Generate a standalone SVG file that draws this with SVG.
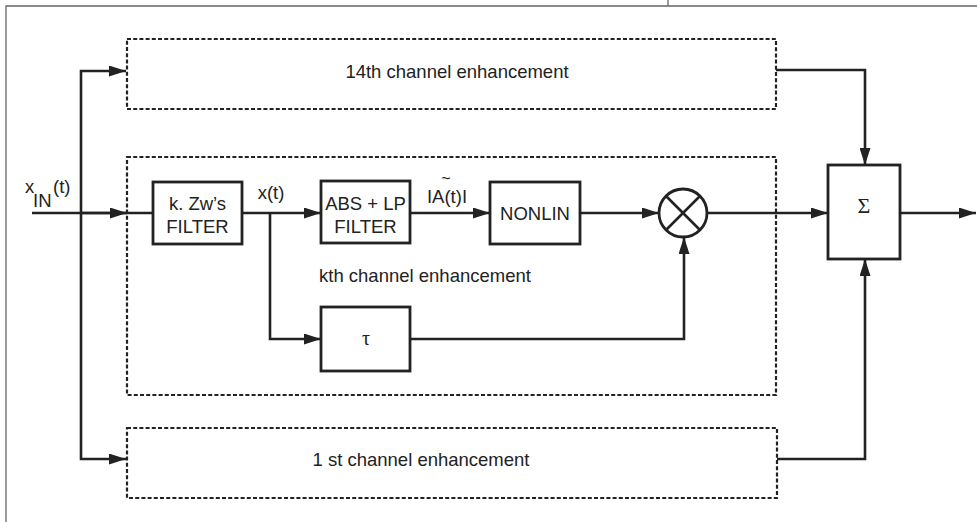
<svg xmlns="http://www.w3.org/2000/svg" width="977" height="522" viewBox="0 0 977 522">
<style>
.frame{fill:none;stroke:#666;stroke-width:1.3}
.blk{fill:#fff;stroke:#222;stroke-width:2.8}
.dash{fill:none;stroke:#222;stroke-width:2.2;stroke-dasharray:4 2.2}
.ln{fill:none;stroke:#222;stroke-width:2.6;stroke-linejoin:miter}
.arr{marker-end:url(#ah)}
text{font-family:"Liberation Sans",Arial,sans-serif;font-size:18.5px;fill:#222}
.mid{text-anchor:middle}
.sig{font-family:"Liberation Serif","Times New Roman",serif;font-size:22px}
</style>
<defs>
<marker id="ah" markerUnits="userSpaceOnUse" markerWidth="17" markerHeight="11" refX="17" refY="5.5" orient="auto">
<path d="M0,0 L17,5.5 L0,11 z" fill="#222"/>
</marker>
</defs>
<rect width="977" height="522" fill="#fff"/>
<g id="frame">
<path class="frame" d="M6,522 V6 H977 M668,0 V6"/>
</g>
<g id="ch14">
<rect class="dash" x="127" y="39" width="649" height="70"/>
<text x="457" y="78" class="mid">14th channel enhancement</text>
</g>
<g id="chk">
<rect class="dash" x="127" y="157" width="649" height="238"/>
<text x="319" y="282">kth channel enhancement</text>
</g>
<g id="ch1">
<rect class="dash" x="127" y="428" width="650" height="70"/>
<text x="421" y="466" class="mid">1 st channel enhancement</text>
</g>
<g id="connectors">
<path class="ln" d="M32,213 H153"/>
<path class="ln arr" d="M81,213 V71 H126"/>
<path class="ln arr" d="M81,213 V459 H126"/>
<path class="ln arr" d="M81,213 H127"/>
<path class="ln arr" d="M242,213 H321"/>
<path class="ln arr" d="M270,213 V339 H321"/>
<path class="ln arr" d="M410,213 H490"/>
<path class="ln arr" d="M580,213 H659"/>
<path class="ln arr" d="M410,339 H684 V237"/>
<path class="ln arr" d="M707,213 H828"/>
<path class="ln arr" d="M776,70 H865 V165"/>
<path class="ln arr" d="M777,459 H865 V259"/>
<path class="ln arr" d="M900,213 H976"/>
</g>
<g id="input">
<text x="25" y="193">x</text>
<text x="33" y="207">IN</text>
<text x="53" y="193">(t)</text>
</g>
<g id="kzw">
<rect class="blk" x="153" y="182" width="89" height="62"/>
<text x="197.5" y="210" class="mid">k. Zw’s</text>
<text x="197.5" y="233" class="mid">FILTER</text>
</g>
<g id="xt">
<text x="271" y="199" class="mid">x(t)</text>
</g>
<g id="abslp">
<rect class="blk" x="321" y="181" width="89" height="62"/>
<text x="365.5" y="210" class="mid">ABS + LP</text>
<text x="365.5" y="233" class="mid">FILTER</text>
</g>
<g id="at">
<text x="447" y="203" class="mid">IA(t)I</text>
<text x="446" y="184" class="mid" style="font-size:16px">~</text>
</g>
<g id="nonlin">
<rect class="blk" x="490" y="182" width="90" height="62"/>
<text x="535" y="220" class="mid">NONLIN</text>
</g>
<g id="mult">
<circle class="blk" cx="683" cy="213" r="24"/>
<path class="ln" d="M666,196 L700,230 M700,196 L666,230"/>
</g>
<g id="tau">
<rect class="blk" x="321" y="307" width="89" height="64"/>
<text x="366" y="345" class="mid sig" style="font-size:20px">τ</text>
</g>
<g id="sum">
<rect class="blk" x="828" y="165" width="72" height="94"/>
<text x="864" y="213" class="mid sig">Σ</text>
</g>
</svg>
